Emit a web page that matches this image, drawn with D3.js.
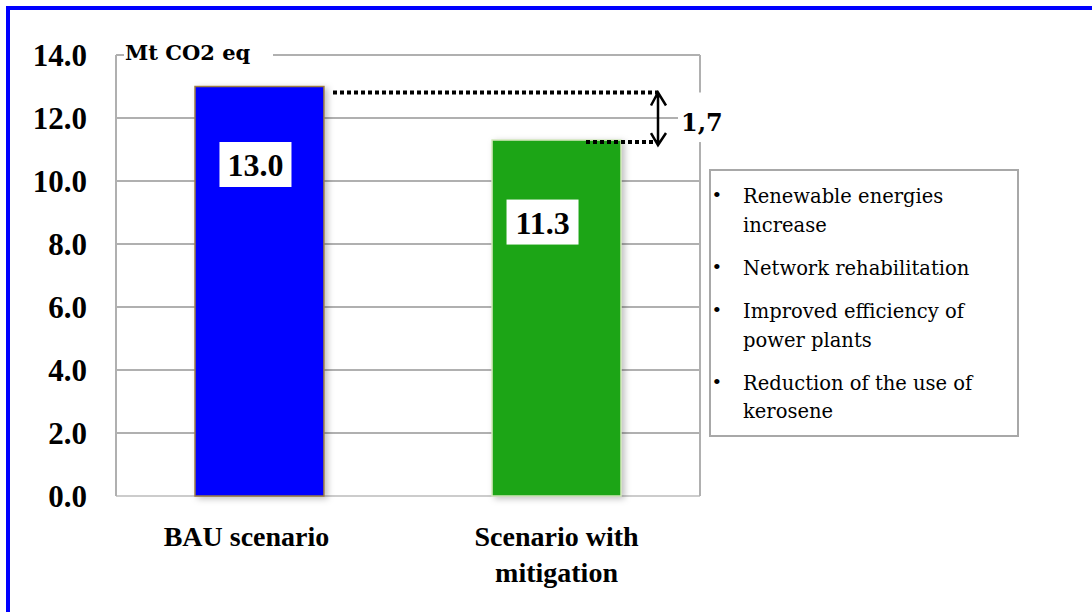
<!DOCTYPE html>
<meta charset="utf-8">
<script src="https://d3js.org/d3.v7.min.js"></script>
<style>
  body { margin: 0; background: #fff; }
  text { font-family: "Liberation Serif", "Times New Roman", serif; font-weight: bold; fill: #000; }
  text.cam { font-family: "DejaVu Serif", serif; }
  text.plain { font-weight: normal; }
</style>
<body>
<svg width="1092" height="612"></svg>
<script>
  // data
  var scenarios = ['BAU scenario', 'Scenario with mitigation'];
  var scenarioLines = [['BAU scenario'], ['Scenario with', 'mitigation']];
  var emissions = [13.0, 11.3];
  var barColors = ['#0000ff', '#1fa514'];
  var barEdges = ['#9a7b45', '#cfe6b8'];
  var yTicks = [0, 2, 4, 6, 8, 10, 12, 14];
  var unitLabel = 'Mt CO2 eq';
  var gapLabel = '1,7';
  var measures = [
    ['Renewable energies', 'increase'],
    ['Network rehabilitation'],
    ['Improved efficiency of', 'power plants'],
    ['Reduction of the use of', 'kerosene']
  ];

  var svg = d3.select('svg');
  var pLeft = 116, pRight = 700, pTop = 55, pBottom = 496;

  var defs = svg.append('defs');
  var f = defs.append('filter').attr('id', 'shadow').attr('x', '-10%').attr('y', '-10%').attr('width', '130%').attr('height', '130%');
  f.append('feDropShadow').attr('dx', 3).attr('dy', 2).attr('stdDeviation', 3).attr('flood-color', '#000').attr('flood-opacity', 0.25);

  // blue frame
  svg.append('rect')
    .attr('x', 8).attr('y', 8)
    .attr('width', 1200).attr('height', 800)
    .attr('fill', 'none').attr('stroke', '#0000ff').attr('stroke-width', 4);

  var x = d3.scaleBand().domain(scenarios).range([pLeft, pRight]).paddingInner(0.566).paddingOuter(0.266);
  var y = d3.scaleLinear().domain([0, 14]).range([pBottom, pTop]);

  // gridlines (the top one is drawn separately, with a gap for the unit)
  svg.append('g').selectAll('line').data(yTicks.filter(function(d){ return d > 0 && d < 14; }))
    .enter().append('line')
    .attr('x1', pLeft).attr('x2', pRight)
    .attr('y1', function(d){ return y(d); }).attr('y2', function(d){ return y(d); })
    .attr('stroke', '#b0b0b0').attr('stroke-width', 2);

  svg.append('line').attr('x1', pLeft).attr('x2', pRight).attr('y1', pBottom).attr('y2', pBottom)
    .attr('stroke', '#cccccc').attr('stroke-width', 2);
  svg.append('line').attr('x1', pLeft).attr('x2', pLeft).attr('y1', pTop).attr('y2', pBottom)
    .attr('stroke', '#b0b0b0').attr('stroke-width', 2);
  svg.append('line').attr('x1', pRight).attr('x2', pRight).attr('y1', pTop).attr('y2', pBottom)
    .attr('stroke', '#b0b0b0').attr('stroke-width', 2);
  svg.append('line').attr('x1', pLeft).attr('x2', 124).attr('y1', y(14)).attr('y2', y(14))
    .attr('stroke', '#b0b0b0').attr('stroke-width', 2);
  svg.append('line').attr('x1', 273).attr('x2', pRight).attr('y1', y(14)).attr('y2', y(14))
    .attr('stroke', '#b0b0b0').attr('stroke-width', 2);

  svg.append('text').attr('class', 'cam')
    .attr('x', 125).attr('y', 60)
    .attr('font-size', 21)
    .text(unitLabel);

  // y tick labels
  svg.append('g').selectAll('text').data(yTicks)
    .enter().append('text')
    .attr('x', 87).attr('y', function(d){ return y(d) + 11; })
    .attr('text-anchor', 'end')
    .attr('font-size', 31)
    .text(function(d){ return d.toFixed(1); });

  // bars
  svg.append('g').selectAll('rect').data(emissions)
    .enter().append('rect')
    .attr('x', function(d, i){ return x(scenarios[i]); })
    .attr('y', function(d){ return y(d); })
    .attr('width', x.bandwidth())
    .attr('height', function(d){ return y(0) - y(d); })
    .attr('fill', function(d, i){ return barColors[i]; })
    .attr('stroke', function(d, i){ return barEdges[i]; })
    .attr('stroke-width', 1.5)
    .attr('filter', 'url(#shadow)');

  // value labels in white boxes
  var labelDx = [-4, -14], labelDy = [78, 82];
  var vl = svg.append('g').selectAll('g').data(emissions)
    .enter().append('g')
    .attr('transform', function(d, i){
      return 'translate(' + (x(scenarios[i]) + x.bandwidth() / 2 + labelDx[i]) + ',' + (y(d) + labelDy[i]) + ')';
    });
  vl.append('rect').attr('x', -36).attr('y', -22.5).attr('width', 72).attr('height', 45).attr('fill', '#fff');
  vl.append('text').attr('text-anchor', 'middle').attr('y', 11.5).attr('font-size', 32)
    .text(function(d){ return d.toFixed(1); });

  // category labels
  var catDx = [-13, 0];
  svg.append('g').selectAll('text').data(scenarios)
    .enter().append('text')
    .attr('x', function(d, i){ return x(d) + x.bandwidth() / 2 + catDx[i]; })
    .attr('y', 546)
    .attr('text-anchor', 'middle')
    .attr('font-size', 28)
    .selectAll('tspan').data(function(d, i){ return scenarioLines[i]; })
    .enter().append('tspan')
    .attr('x', function(){ return this.parentNode.getAttribute('x'); })
    .attr('dy', function(d, i){ return i ? 36 : 0; })
    .text(function(d){ return d; });

  // difference annotation
  var yHi = y(emissions[0]) + 6, yLo = y(emissions[1]) + 2, ax = 658;
  svg.append('line').attr('x1', 333).attr('x2', ax).attr('y1', yHi).attr('y2', yHi)
    .attr('stroke', '#000').attr('stroke-width', 4).attr('stroke-dasharray', '4,3');
  svg.append('line').attr('x1', 586).attr('x2', ax).attr('y1', yLo).attr('y2', yLo)
    .attr('stroke', '#000').attr('stroke-width', 4).attr('stroke-dasharray', '4,3');
  svg.append('rect').attr('x', 678).attr('y', yHi).attr('width', 48).attr('height', yLo - yHi).attr('fill', '#fff');
  svg.append('path')
    .attr('d', 'M' + ax + ',' + yHi + 'V' + (yLo + 3) +
      'M' + (ax - 7) + ',' + (yHi + 13) + 'L' + ax + ',' + yHi + 'L' + (ax + 8) + ',' + (yHi + 13) +
      'M' + (ax - 7) + ',' + (yLo - 9) + 'L' + ax + ',' + (yLo + 3) + 'L' + (ax + 8) + ',' + (yLo - 9))
    .attr('fill', 'none').attr('stroke', '#000').attr('stroke-width', 2.5);
  svg.append('text').attr('class', 'cam')
    .attr('x', 681).attr('y', 131)
    .attr('font-size', 24)
    .text(gapLabel);

  // measures box
  svg.append('rect').attr('x', 710).attr('y', 170).attr('width', 308).attr('height', 266)
    .attr('fill', '#fff').attr('stroke', '#a8a8a8').attr('stroke-width', 2);
  var lineY = [[203, 232], [275], [318, 347], [390, 418]];
  var items = svg.append('g').selectAll('g').data(measures).enter().append('g');
  items.append('text').attr('class', 'plain')
    .attr('x', 713).attr('y', function(d, i){ return lineY[i][0] - 1; })
    .attr('font-family', 'Liberation Sans, sans-serif').attr('font-size', 22)
    .text('\u2022');
  items.selectAll('text.line').data(function(d, i){ return d.map(function(t, k){ return [t, lineY[i][k]]; }); })
    .enter().append('text')
    .attr('class', 'line cam plain')
    .attr('x', 743).attr('y', function(d){ return d[1]; })
    .attr('font-size', 19.5)
    .text(function(d){ return d[0]; });
</script>
</body>
